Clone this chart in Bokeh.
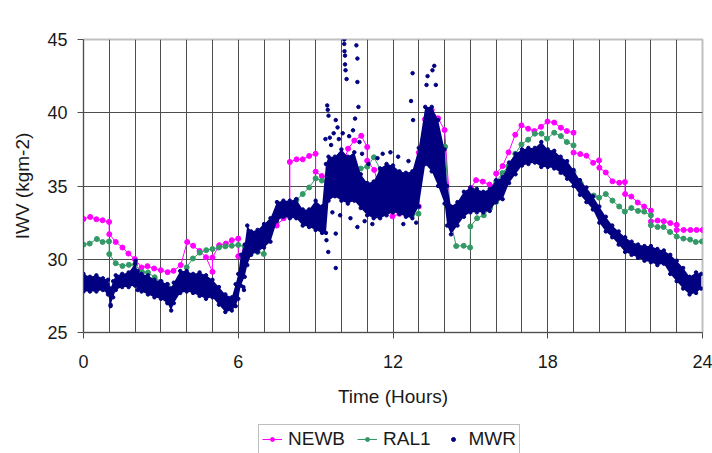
from bokeh.plotting import figure
from bokeh.models import Range1d, FixedTicker, Legend, LegendItem
from bokeh.layouts import column
from bokeh.embed import file_html
from bokeh.resources import INLINE

# ---------------- data ----------------
x_ticks = [0, 6, 12, 18, 24]
y_ticks = [25, 30, 35, 40, 45]

newb_t = [0.00, 0.26, 0.50, 0.74, 0.99, 1.00, 1.25, 1.51, 1.74, 1.99,
          2.25, 2.48, 2.74, 3.00, 3.26, 3.49, 3.77, 4.02, 4.25, 4.50,
          4.75, 5.00, 5.00, 5.26, 5.52, 5.75, 6.00, 6.00, 6.25, 6.51,
          6.75, 7.00, 7.23, 7.49, 7.76, 8.00, 8.00, 8.26, 8.50, 8.75,
          9.00, 9.00, 9.24, 9.50, 9.76, 10.03, 10.26, 10.50, 10.77, 11.00,
          11.00, 11.27, 11.50, 11.76, 11.98, 12.25, 12.50, 12.75, 13.00, 13.00,
          13.24, 13.50, 13.75, 14.00, 14.24, 14.50, 14.76, 15.02, 15.22, 15.48,
          15.74, 15.99, 16.00, 16.25, 16.48, 16.74, 16.98, 17.24, 17.48, 17.74,
          17.99, 18.25, 18.51, 18.74, 19.00, 19.00, 19.26, 19.50, 19.76, 19.99,
          20.00, 20.25, 20.51, 20.77, 20.99, 21.00, 21.24, 21.49, 21.74, 22.00,
          22.00, 22.26, 22.50, 22.75, 23.00, 23.00, 23.27, 23.53, 23.77, 24.00]
newb_v = [32.75, 32.89, 32.73, 32.66, 32.55, 31.71, 31.18, 30.80, 30.39, 30.02,
          29.44, 29.53, 29.37, 29.25, 29.12, 29.21, 29.60, 31.18, 30.92, 30.57,
          30.14, 29.14, 30.12, 30.96, 31.07, 31.30, 31.41, 30.20, 30.60, 31.30,
          31.50, 31.70, 31.90, 32.30, 32.80, 33.10, 36.64, 36.82, 36.82, 37.05,
          37.20, 35.98, 35.68, 35.55, 35.80, 36.30, 37.55, 38.10, 38.43, 37.66,
          36.72, 36.10, 34.64, 33.84, 32.93, 33.10, 33.30, 33.57, 33.60, 37.28,
          39.55, 40.18, 39.62, 38.82, 32.77, 33.30, 33.84, 34.85, 35.40, 35.30,
          35.10, 35.08, 35.85, 36.36, 37.30, 38.50, 39.14, 38.91, 38.75, 39.04,
          39.40, 39.33, 38.98, 38.75, 38.64, 37.28, 37.18, 37.07, 36.58, 36.75,
          36.25, 35.92, 35.32, 35.22, 35.27, 34.45, 34.28, 33.87, 33.60, 33.32,
          32.58, 32.64, 32.60, 32.47, 32.35, 32.00, 32.00, 32.00, 32.00, 32.00]

ral1_t = [0.00, 0.24, 0.52, 0.74, 0.99, 1.00, 1.25, 1.51, 1.76, 2.00,
          2.27, 2.50, 2.76, 3.00, 3.25, 3.50, 3.77, 4.00, 4.24, 4.51,
          4.76, 5.00, 5.25, 5.50, 5.75, 6.00, 6.25, 6.49, 6.75, 6.99,
          7.00, 7.24, 7.50, 7.77, 8.01, 8.26, 8.50, 8.75, 9.00, 9.24,
          9.50, 9.76, 10.03, 10.26, 10.50, 10.75, 11.00, 11.26, 11.52, 11.76,
          12.00, 12.27, 12.50, 12.75, 12.99, 13.00, 13.25, 13.50, 13.75, 14.02,
          14.20, 14.45, 14.74, 14.99, 15.00, 15.26, 15.52, 15.77, 15.99, 16.00,
          16.24, 16.47, 16.74, 16.98, 17.24, 17.50, 17.76, 17.97, 18.25, 18.51,
          18.74, 19.00, 19.00, 19.28, 19.52, 19.78, 19.99, 20.25, 20.51, 20.77,
          20.99, 21.24, 21.50, 21.74, 22.00, 22.00, 22.26, 22.49, 22.74, 23.00,
          23.26, 23.52, 23.74, 23.98]
ral1_v = [31.00, 31.07, 31.38, 31.18, 31.22, 30.35, 29.73, 29.54, 29.62, 29.62,
          29.12, 29.10, 28.77, 28.46, 28.25, 28.05, 27.90, 29.45, 30.05, 30.45,
          30.62, 30.70, 30.80, 30.88, 30.92, 30.98, 30.85, 30.62, 30.50, 30.36,
          32.18, 32.55, 32.90, 33.22, 33.70, 34.05, 34.45, 34.90, 35.52, 35.37,
          35.12, 35.35, 35.70, 36.03, 36.07, 36.19, 36.32, 36.96, 36.10, 34.77,
          33.95, 33.22, 33.10, 33.05, 33.11, 36.30, 38.36, 38.50, 38.20, 37.68,
          32.90, 30.90, 30.92, 30.80, 32.24, 32.80, 33.00, 33.50, 33.90, 35.30,
          35.88, 36.36, 37.20, 37.84, 38.16, 38.57, 38.57, 38.23, 38.64, 38.41,
          38.00, 37.77, 35.95, 35.17, 34.50, 34.35, 34.20, 34.45, 34.00, 33.60,
          33.25, 33.50, 33.30, 33.25, 33.00, 32.32, 32.20, 32.20, 31.86, 31.55,
          31.41, 31.34, 31.18, 31.22]

# MWR: dense scatter, read as lower / upper edge of its dense core
mwr_t = [0.00, 0.25, 0.50, 0.75, 0.95, 1.05, 1.15, 1.25, 1.50, 1.75,
         2.00, 2.10, 2.25, 2.50, 2.75, 3.00, 3.25, 3.40, 3.50, 3.75,
         4.00, 4.25, 4.50, 4.75, 5.00, 5.25, 5.50, 5.75, 5.90, 6.00,
         6.10, 6.25, 6.35, 6.50, 6.75, 7.00, 7.25, 7.50, 7.75, 8.00,
         8.25, 8.50, 8.75, 9.00, 9.25, 9.40, 9.50, 9.75, 10.00, 10.25,
         10.50, 10.75, 11.00, 11.25, 11.50, 11.75, 12.00, 12.25, 12.50, 12.75,
         13.00, 13.25, 13.50, 13.75, 14.00, 14.10, 14.25, 14.50, 14.75, 15.00,
         15.25, 15.50, 15.75, 16.00, 16.25, 16.50, 16.75, 17.00, 17.25, 17.50,
         17.75, 18.00, 18.25, 18.50, 18.75, 19.00, 19.25, 19.50, 19.75, 20.00,
         20.25, 20.50, 20.75, 21.00, 21.25, 21.50, 21.75, 22.00, 22.25, 22.50,
         22.75, 23.00, 23.25, 23.50, 23.75, 23.95]
mwr_lo = [27.8, 27.8, 27.8, 27.9, 27.6, 26.9, 27.4, 27.9, 28.1, 28.1,
          28.2, 27.9, 27.8, 27.6, 27.4, 27.3, 27.0, 26.5, 27.0, 27.7,
          27.8, 27.7, 27.5, 27.3, 27.4, 26.9, 26.4, 26.5, 26.8, 27.3,
          28.2, 28.8, 29.6, 30.3, 30.5, 30.8, 31.2, 32.6, 32.9, 32.8,
          32.8, 32.3, 32.2, 32.0, 31.8, 31.8, 34.0, 34.3, 34.0, 33.8,
          34.0, 33.5, 33.0, 32.8, 32.8, 33.0, 33.2, 33.1, 32.9, 32.8,
          33.6, 36.5, 36.0, 35.0, 33.8, 32.3, 31.7, 32.3, 32.9, 33.2,
          33.2, 33.2, 33.3, 33.9, 34.1, 35.2, 35.8, 36.4, 36.5, 36.6,
          36.3, 36.3, 36.2, 35.9, 35.5, 35.0, 34.4, 33.9, 33.4, 32.5,
          31.9, 31.5, 31.0, 30.5, 30.3, 30.1, 29.9, 29.8, 29.6, 29.7,
          29.0, 28.5, 28.0, 27.6, 27.7, 28.0]
mwr_hi = [29.0, 28.8, 28.9, 28.7, 28.6, 28.0, 28.5, 28.9, 29.0, 29.1,
          29.7, 29.2, 29.0, 28.9, 28.6, 28.5, 28.3, 28.0, 28.4, 29.2,
          29.2, 29.0, 29.1, 28.9, 28.6, 28.1, 27.6, 27.4, 28.3, 29.0,
          30.3, 31.0, 32.3, 31.9, 32.0, 32.4, 32.8, 33.9, 34.0, 34.0,
          34.1, 33.4, 33.4, 34.0, 33.6, 36.5, 37.0, 37.0, 37.5, 37.0,
          37.3, 35.8, 35.2, 35.3, 36.2, 36.5, 36.4, 36.0, 35.9, 36.0,
          37.6, 40.4, 40.4, 39.5, 37.5, 35.0, 33.6, 33.9, 34.6, 34.9,
          34.8, 34.6, 34.8, 35.4, 35.6, 36.6, 37.2, 37.5, 37.6, 37.6,
          38.0, 37.5, 37.4, 37.0, 36.7, 36.1, 35.4, 34.9, 34.3, 33.6,
          32.9, 32.3, 31.9, 31.5, 31.2, 31.0, 30.9, 30.9, 30.7, 30.6,
          30.3, 29.9, 29.4, 28.8, 29.1, 29.0]
# isolated MWR points outside the dense core
mwr_out_t = [1.05, 2.02, 6.20, 6.22, 9.38, 9.42, 9.45, 9.47, 9.49, 9.50,
             9.55, 9.60, 9.65, 9.70, 9.78, 9.78, 9.78, 9.85, 9.90, 9.95,
             10.05, 10.11, 10.11, 10.12, 10.14, 10.14, 10.16, 10.20, 10.30, 10.35,
             10.45, 10.53, 10.58, 10.62, 10.62, 10.62, 10.66, 10.70, 10.80, 10.90,
             11.05, 11.20, 11.40, 11.60, 11.90, 12.20, 12.40, 12.60, 12.70, 12.76,
             12.78, 12.90, 13.30, 13.34, 13.53, 13.60, 13.66]
mwr_out_v = [26.8, 29.9, 28.1, 27.9, 38.2, 31.3, 40.5, 40.2, 30.5, 39.8,
             38.3, 37.8, 33.2, 38.6, 39.5, 29.4, 31.75, 39.0, 38.2, 33.0,
             38.6, 45.0, 44.7, 44.2, 43.9, 43.3, 42.9, 42.3, 38.4, 32.8,
             38.8, 39.6, 44.6, 43.7, 42.1, 32.2, 40.4, 38.0, 37.2, 32.6,
             36.5, 32.4, 36.9, 37.2, 37.3, 37.0, 32.4, 36.7, 40.8, 42.7,
             39.5, 32.5, 41.9, 42.5, 42.9, 43.2, 41.9]

# ---------------- styles ----------------
FONT = "Liberation Sans"
TXT = "#1a1a1a"
MAG = "#ff00ff"
GRN = "#339966"
NAVY = "#000080"
GRID = "#4d4d4d"

p = figure(width=712, height=424, output_backend="svg", toolbar_location=None,
           x_range=Range1d(0, 24), y_range=Range1d(25, 45),
           min_border_left=83, min_border_right=10, min_border_top=39,
           min_border_bottom=92)
p.background_fill_color = "white"
p.border_fill_color = "white"
p.outline_line_color = "#c0c0c0"
p.outline_line_width = 2

p.xaxis.ticker = FixedTicker(ticks=x_ticks)
p.yaxis.ticker = FixedTicker(ticks=y_ticks)
p.xgrid.ticker = FixedTicker(ticks=list(range(1, 24)))
p.ygrid.ticker = FixedTicker(ticks=y_ticks[:-1])
for g in (p.xgrid, p.ygrid):
    g.grid_line_color = GRID
    g.grid_line_width = 1

for ax in (p.xaxis, p.yaxis):
    ax.axis_line_color = GRID
    ax.major_tick_line_color = GRID
    ax.minor_tick_line_color = None
    ax.major_tick_in = 0
    ax.major_tick_out = 6
    ax.major_label_text_font = FONT
    ax.major_label_text_font_size = "18px"
    ax.major_label_text_color = TXT
    ax.axis_label_text_font = FONT
    ax.axis_label_text_font_size = "19px"
    ax.axis_label_text_font_style = "normal"
    ax.axis_label_text_color = TXT

p.xaxis.axis_label = "Time (Hours)"
p.yaxis.axis_label = "IWV (kgm-2)"
p.xaxis.major_label_standoff = 16
p.xaxis.axis_label_standoff = 15
p.yaxis.major_label_standoff = 10
p.yaxis.axis_label_standoff = 11

# NEWB
p.line(newb_t, newb_v, line_color=MAG, line_width=1)
p.scatter(newb_t, newb_v, size=5, marker="circle", color=MAG)
# RAL1
p.line(ral1_t, ral1_v, line_color=GRN, line_width=1)
p.scatter(ral1_t, ral1_v, size=5, marker="circle", color=GRN)
# MWR
p.varea(x=mwr_t, y1=mwr_lo, y2=mwr_hi, fill_color=NAVY)
p.scatter(mwr_t, mwr_lo, size=3.5, color=NAVY)
p.scatter(mwr_t, mwr_hi, size=3.5, color=NAVY)
p.scatter(mwr_out_t, mwr_out_v, size=3.5, color=NAVY)

# ---------------- legend strip below the chart ----------------
# (its renderers use the same series; the y range 0-1 keeps them out of view)
lg = figure(width=712, height=29, output_backend="svg", toolbar_location=None,
            x_range=Range1d(0, 1), y_range=Range1d(0, 1),
            x_axis_location=None, y_axis_location=None, min_border=0)
lg.grid.visible = False
lg.outline_line_color = None
lg.background_fill_color = "white"
lg.border_fill_color = "white"
kl = lg.line(newb_t, newb_v, line_color=MAG, line_width=1)
km = lg.scatter(newb_t, newb_v, size=5, color=MAG)
rl2 = lg.line(ral1_t, ral1_v, line_color=GRN, line_width=1)
rm2 = lg.scatter(ral1_t, ral1_v, size=5, color=GRN)
mm = lg.scatter(mwr_out_t, mwr_out_v, size=2.5, color=NAVY)

legend = Legend(items=[LegendItem(label="NEWB", renderers=[kl, km]),
                       LegendItem(label="RAL1", renderers=[rl2, rm2]),
                       LegendItem(label="MWR", renderers=[mm])],
                orientation="horizontal", location=(175, -1))
legend.label_text_font = FONT
legend.label_text_font_size = "19px"
legend.label_text_color = TXT
legend.label_height = 20
legend.glyph_width = 20
legend.glyph_height = 10
legend.label_standoff = 6
legend.spacing = 12
legend.padding = 3
legend.margin = 0
legend.border_line_color = "#808080"
legend.border_line_width = 1
legend.background_fill_color = "white"
legend.background_fill_alpha = 1
lg.add_layout(legend)

page = column(p, lg, spacing=0)
open("out.html", "w").write(file_html(page, INLINE))
